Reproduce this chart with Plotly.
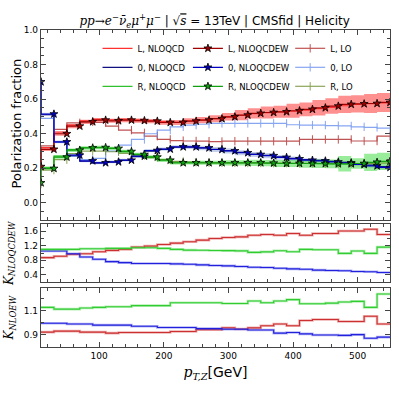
import plotly.graph_objects as go
from plotly.subplots import make_subplots

# bin edges in pT,Z [GeV]; each value belongs to the bin that ends at that edge
pt_edges = [10, 30, 50, 70, 90, 110, 130, 150, 170, 190, 210, 230, 250, 270,
            290, 310, 330, 350, 370, 390, 410, 430, 450, 470, 490, 510, 530, 550]

# polarization fractions
frac_L_qcd = [0.22, 0.32, 0.41, 0.45, 0.474, 0.483, 0.48, 0.483, 0.48, 0.476, 0.47, 0.468, 0.475, 0.48,
              0.488, 0.498, 0.507, 0.516, 0.522, 0.526, 0.53, 0.536, 0.545, 0.553, 0.562, 0.57, 0.574, 0.578]
frac_0_qcd = [0.69, 0.51, 0.35, 0.272, 0.241, 0.231, 0.236, 0.246, 0.268, 0.30, 0.31, 0.322, 0.323, 0.318,
              0.31, 0.302, 0.292, 0.283, 0.275, 0.266, 0.258, 0.25, 0.246, 0.24, 0.235, 0.226, 0.218, 0.21]
frac_R_qcd = [0.12, 0.205, 0.27, 0.308, 0.32, 0.322, 0.317, 0.30, 0.283, 0.268, 0.25, 0.236, 0.234, 0.234,
              0.233, 0.233, 0.233, 0.233, 0.231, 0.229, 0.229, 0.228, 0.228, 0.227, 0.226, 0.228, 0.233, 0.238]

frac_L_ew = [0.21, 0.31, 0.40, 0.444, 0.469, 0.479, 0.475, 0.479, 0.476, 0.473, 0.465, 0.465, 0.473, 0.479,
             0.487, 0.498, 0.508, 0.518, 0.523, 0.527, 0.533, 0.541, 0.55, 0.56, 0.57, 0.573, 0.575, 0.581]
frac_0_ew = [0.70, 0.514, 0.353, 0.276, 0.243, 0.232, 0.237, 0.247, 0.27, 0.303, 0.311, 0.324, 0.324, 0.318,
             0.309, 0.301, 0.290, 0.280, 0.273, 0.263, 0.255, 0.247, 0.243, 0.237, 0.232, 0.222, 0.214, 0.205]
frac_R_ew = [0.116, 0.199, 0.265, 0.305, 0.318, 0.32, 0.315, 0.297, 0.28, 0.265, 0.247, 0.232, 0.232, 0.232,
             0.232, 0.232, 0.232, 0.232, 0.23, 0.228, 0.228, 0.228, 0.227, 0.226, 0.226, 0.228, 0.235, 0.24]

frac_L_lo = [0.22, 0.33, 0.425, 0.463, 0.469, 0.465, 0.444, 0.421, 0.405, 0.386, 0.367, 0.36, 0.358, 0.357,
             0.355, 0.357, 0.357, 0.357, 0.357, 0.357, 0.357, 0.367, 0.367, 0.367, 0.367, 0.358, 0.358, 0.386]
frac_0_lo = [0.62, 0.489, 0.35, 0.27, 0.251, 0.257, 0.299, 0.334, 0.367, 0.40, 0.421, 0.44, 0.45, 0.455,
             0.46, 0.46, 0.46, 0.46, 0.46, 0.46, 0.452, 0.45, 0.45, 0.447, 0.445, 0.44, 0.437, 0.433]
frac_R_lo = [0.11, 0.19, 0.25, 0.285, 0.30, 0.30, 0.296, 0.287, 0.275, 0.262, 0.25, 0.24, 0.236, 0.233,
             0.232, 0.232, 0.231, 0.231, 0.23, 0.23, 0.229, 0.229, 0.228, 0.228, 0.228, 0.228, 0.229, 0.23]

# half widths of the NLOQCDEW uncertainty bands
err_L_ew = [0.01, 0.01, 0.012, 0.012, 0.012, 0.012, 0.012, 0.012, 0.012, 0.012, 0.013, 0.015, 0.016, 0.018,
            0.02, 0.022, 0.03, 0.03, 0.035, 0.035, 0.04, 0.04, 0.045, 0.045, 0.05, 0.05, 0.055, 0.055]
err_0_ew = [0.008, 0.008, 0.008, 0.008, 0.008, 0.008, 0.008, 0.008, 0.008, 0.009, 0.009, 0.01, 0.012, 0.013,
            0.014, 0.015, 0.015, 0.015, 0.015, 0.014, 0.013, 0.012, 0.012, 0.011, 0.01, 0.01, 0.01, 0.01]
err_R_ew = [0.008, 0.008, 0.01, 0.01, 0.01, 0.01, 0.01, 0.01, 0.01, 0.01, 0.01, 0.01, 0.01, 0.012,
            0.012, 0.015, 0.015, 0.018, 0.018, 0.02, 0.02, 0.025, 0.025, 0.025, 0.045, 0.03, 0.05, 0.05]

# K factors per bin (27 bins, 10-30 ... 530-550)
k_qcdew_L = [0.873, 0.909, 0.963, 0.981, 1.036, 1.072, 1.10, 1.163, 1.19, 1.236, 1.272, 1.309, 1.354, 1.40,
             1.427, 1.445, 1.49, 1.509, 1.49, 1.536, 1.49, 1.536, 1.536, 1.609, 1.609, 1.654, 1.509]
k_qcdew_0 = [1.054, 1.054, 0.981, 0.891, 0.827, 0.763, 0.736, 0.709, 0.709, 0.709, 0.70, 0.691, 0.672, 0.654,
             0.645, 0.627, 0.609, 0.60, 0.581, 0.563, 0.554, 0.527, 0.518, 0.509, 0.491, 0.482, 0.463]
k_qcdew_R = [1.10, 1.10, 1.10, 1.118, 1.118, 1.127, 1.127, 1.145, 1.145, 1.127, 1.10, 1.08, 1.075, 1.07,
             1.065, 1.06, 1.018, 1.03, 1.063, 1.036, 1.10, 1.09, 1.09, 0.99, 1.054, 0.99, 1.163]

k_ew_L = [0.924, 0.932, 0.932, 0.924, 0.924, 0.915, 0.921, 0.921, 0.921, 0.921, 0.929, 0.929, 0.944, 0.944,
          0.959, 0.950, 0.959, 0.976, 0.991, 0.976, 1.020, 1.029, 1.029, 1.012, 1.012, 1.056, 0.991]
k_ew_0 = [0.997, 0.997, 0.991, 0.991, 0.982, 0.982, 0.982, 0.973, 0.973, 0.962, 0.962, 0.962, 0.953, 0.953,
          0.947, 0.947, 0.941, 0.941, 0.915, 0.921, 0.909, 0.90, 0.90, 0.897, 0.903, 0.873, 0.882]
k_ew_R = [1.129, 1.115, 1.115, 1.124, 1.129, 1.135, 1.135, 1.144, 1.144, 1.144, 1.168, 1.168, 1.168, 1.168,
          1.162, 1.162, 1.182, 1.168, 1.182, 1.194, 1.159, 1.159, 1.165, 1.174, 1.179, 1.129, 1.241]

FONT = "DejaVu Sans"
SERIF = "DejaVu Serif"

fig = make_subplots(rows=3, cols=1, shared_xaxes=True)


def band(y, err, color, row):
    lo = [v - e for v, e in zip(y, err)]
    hi = [v + e for v, e in zip(y, err)]
    fig.add_trace(go.Scatter(x=pt_edges, y=lo, mode="lines", line=dict(width=0, shape="vh"),
                             showlegend=False, hoverinfo="skip"), row=row, col=1)
    fig.add_trace(go.Scatter(x=pt_edges, y=hi, mode="lines", line=dict(width=0, shape="vh"),
                             fill="tonexty", fillcolor=color, showlegend=False, hoverinfo="skip"),
                  row=row, col=1)


band(frac_L_ew, err_L_ew, "rgba(255,70,70,0.6)", 1)
band(frac_0_ew, err_0_ew, "rgba(110,140,210,0.4)", 1)
band(frac_R_ew, err_R_ew, "rgba(70,220,70,0.55)", 1)

# NLOQCD
for name, y, c in [("L, NLOQCD", frac_L_qcd, "#ff3030"),
                   ("0, NLOQCD", frac_0_qcd, "#101080"),
                   ("R, NLOQCD", frac_R_qcd, "#30c030")]:
    fig.add_trace(go.Scatter(x=pt_edges, y=y, mode="lines", name=name, legend="legend",
                             line=dict(color=c, width=1.2, shape="vh")), row=1, col=1)

# LO
for name, y, c in [("L, LO", frac_L_lo, "#b02828"),
                   ("0, LO", frac_0_lo, "#6a90f0"),
                   ("R, LO", frac_R_lo, "#6f9030")]:
    fig.add_trace(go.Scatter(x=pt_edges, y=y, mode="lines+markers", name=name, legend="legend3",
                             opacity=0.8,
                             line=dict(color=c, width=1.2, shape="vh"),
                             marker=dict(symbol="line-ns", size=6, line=dict(color=c, width=1))),
                  row=1, col=1)

# NLOQCDEW
for name, y, c in [("L, NLOQCDEW", frac_L_ew, "#a00000"),
                   ("0, NLOQCDEW", frac_0_ew, "#0000c0"),
                   ("R, NLOQCDEW", frac_R_ew, "#10a010")]:
    fig.add_trace(go.Scatter(x=pt_edges, y=y, mode="lines+markers", name=name, legend="legend2",
                             line=dict(color=c, width=1.2, shape="vh"),
                             marker=dict(symbol="star", size=6, color=c, line=dict(color="black", width=0.8))),
                  row=1, col=1)

# K-factor panels
for row, series in [(2, [(k_qcdew_L, "#cc3030", "rgba(220,80,80,0.45)"),
                         (k_qcdew_0, "#2020dd", "rgba(90,90,230,0.45)"),
                         (k_qcdew_R, "#30cc30", "rgba(90,220,90,0.45)")]),
                    (3, [(k_ew_L, "#cc3030", "rgba(220,80,80,0.45)"),
                         (k_ew_0, "#2020dd", "rgba(90,90,230,0.45)"),
                         (k_ew_R, "#30cc30", "rgba(90,220,90,0.45)")])]:
    for k, c, light in series:
        ky = [k[0]] + k
        fig.add_trace(go.Scatter(x=pt_edges, y=ky, mode="lines", showlegend=False,
                                 line=dict(color=light, width=2.6, shape="vh")), row=row, col=1)
        fig.add_trace(go.Scatter(x=pt_edges, y=ky, mode="lines", showlegend=False,
                                 line=dict(color=c, width=1.1, shape="vh")), row=row, col=1)

axis_common = dict(showline=True, linecolor="#444", linewidth=1.3, mirror="allticks",
                   ticks="inside", ticklen=5, tickcolor="#444", tickwidth=1,
                   tickfont=dict(size=9, family=FONT, color="black"),
                   showgrid=False, zeroline=False, automargin=False)

for i in (1, 2, 3):
    fig.update_xaxes(axis_common, row=i, col=1)
    fig.update_xaxes(range=[10, 550], tick0=0, dtick=100,
                     minor=dict(ticks="inside", ticklen=3, tickcolor="#444", dtick=20),
                     showticklabels=(i == 3), row=i, col=1)
    fig.update_yaxes(axis_common, row=i, col=1)

fig.update_yaxes(range=[-0.1, 1.0], tick0=0, dtick=0.2, tickformat=".1f",
                 minor=dict(ticks="inside", ticklen=3, tickcolor="#444", dtick=0.05),
                 domain=[0.40, 1.0], row=1, col=1)
fig.update_yaxes(range=[0.2, 1.8], tick0=0.4, dtick=0.4, tickformat=".1f",
                 minor=dict(ticks="inside", ticklen=3, tickcolor="#444", dtick=0.2),
                 domain=[0.205, 0.388], row=2, col=1)
fig.update_yaxes(range=[0.8, 1.29], tick0=0.9, dtick=0.2, tickformat=".1f",
                 minor=dict(ticks="inside", ticklen=3, tickcolor="#444", dtick=0.1),
                 domain=[0.0, 0.186], row=3, col=1)
fig.update_xaxes(title=dict(text="<span style='font-family:DejaVu Serif'><i>p</i><sub><i>T,Z</i></sub></span>[GeV]",
                            font=dict(size=14, family=FONT, color="black"), standoff=7),
                 row=3, col=1)

# y-axis titles placed as rotated annotations
ytitles = [("Polarization fraction", -0.069, 0.705, FONT, 13),
           ("<i>K</i><sub><i>NLOQCDEW</i></sub>", -0.089, 0.296, SERIF, 12),
           ("<i>K</i><sub><i>NLOEW</i></sub>", -0.089, 0.093, SERIF, 12)]
for txt, xx, yy, fam, sz in ytitles:
    fig.add_annotation(text=txt, xref="paper", yref="paper", x=xx, y=yy, xanchor="center", yanchor="middle",
                       textangle=-90, showarrow=False, font=dict(size=sz, family=fam, color="black"))

title_text = ("<span style='font-family:DejaVu Serif'><i>pp</i>→<i>e</i><sup>−</sup><i>ν̄</i>"
              "<sub><i>e</i></sub><i>μ</i><sup>+</sup><i>μ</i><sup>−</sup></span>"
              " | √<span style='text-decoration:overline'><span style='font-family:DejaVu Serif'><i>s</i></span></span>"
              " = 13TeV | CMSfid | Helicity")

legend_style = dict(yanchor="top", xanchor="left", y=0.988, bgcolor="rgba(0,0,0,0)",
                    traceorder="normal",
                    font=dict(size=8.5, family=FONT, color="black"), itemwidth=30, tracegroupgap=0)

fig.update_layout(
    width=399, height=399,
    margin=dict(l=41, r=9, t=30, b=52),
    paper_bgcolor="white", plot_bgcolor="white",
    font=dict(family=FONT, color="black"),
    title=dict(text=title_text, x=0.538, xanchor="center", y=0.947, yanchor="middle", yref="container",
               font=dict(size=12, family=FONT, color="black")),
    legend=dict(legend_style, x=0.162),
    legend2=dict(legend_style, x=0.421),
    legend3=dict(legend_style, x=0.714),
)

fig.write_html("out.html", config={"displayModeBar": False},
               post_script="document.body.style.margin='0';")
